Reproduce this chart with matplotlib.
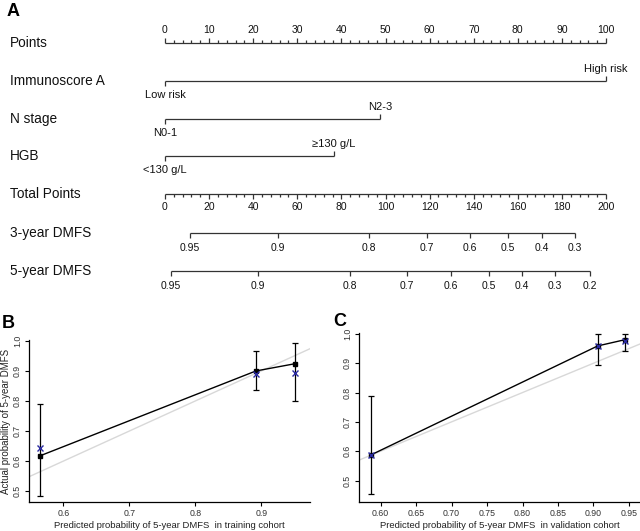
import matplotlib
matplotlib.use("Agg")
import matplotlib.pyplot as plt
import matplotlib.transforms as mtransforms
import numpy as np

plt.rcParams['font.family'] = ['Liberation Sans', 'DejaVu Sans']

# ---- nomogram data ----
row_names = ["Points", "Immunoscore A", "N stage", "HGB", "Total Points", "3-year DMFS", "5-year DMFS"]

points_major = [0, 10, 20, 30, 40, 50, 60, 70, 80, 90, 100]
points_minor = list(range(0, 101, 2))

immuno_pts = [0, 100]
immuno_labels = ["Low risk", "High risk"]
nstage_pts = [0, 48.8]
nstage_labels = ["N0-1", "N2-3"]
hgb_pts = [0, 38.3]
hgb_labels = ["<130 g/L", "\u2265130 g/L"]

total_major = [0, 20, 40, 60, 80, 100, 120, 140, 160, 180, 200]
total_minor = list(range(0, 201, 4))

dmfs3_labels = ["0.95", "0.9", "0.8", "0.7", "0.6", "0.5", "0.4", "0.3"]
dmfs3_total = [11.3, 51.2, 92.5, 118.8, 138.3, 155.6, 171.0, 186.0]
dmfs5_labels = ["0.95", "0.9", "0.8", "0.7", "0.6", "0.5", "0.4", "0.3", "0.2"]
dmfs5_total = [2.7, 42.2, 83.9, 109.8, 129.7, 146.9, 161.9, 176.9, 192.7]

# ---- calibration data ----
train_pred = [0.564, 0.892, 0.951]
train_obs = [0.617, 0.900, 0.924]
train_lo = [0.483, 0.836, 0.800]
train_hi = [0.790, 0.968, 0.993]
train_corr = [0.644, 0.890, 0.893]

valid_pred = [0.587, 0.906, 0.944]
valid_obs = [0.588, 0.959, 0.980]
valid_lo = [0.453, 0.895, 0.942]
valid_hi = [0.788, 1.000, 1.000]
valid_corr = [0.588, 0.957, 0.975]

W, H = 640, 531
fig = plt.figure(figsize=(W / 100, H / 100), dpi=100)

# vertical pixel position of each nomogram row
row_y = [43, 81, 119, 156, 193.5, 233, 271]


def box(left, top, right, bottom):
    return [left / W, 1 - bottom / H, (right - left) / W, (bottom - top) / H]


# nomogram axes: x in points (0-100), y in pixels from the top
ax = fig.add_axes(box(165, 0, 606, 300))
ax.set_xlim(0, 100)
ax.set_ylim(300, 0)
ax.axis("off")

LC = "#333333"
tick_big = 5
tick_small = 3


def draw_line(y, x0, x1):
    ax.plot([x0, x1], [y, y], color=LC, lw=0.9, clip_on=False, solid_capstyle="butt")


def draw_ticks(y, xs, length, up):
    sign = -1 if up else 1
    ax.vlines(xs, y, y + sign * length, color=LC, lw=0.9, clip_on=False)


def draw_label(x, y, text, off_px, size):
    ax.annotate(text, (x, y - off_px), ha="center", va="center", fontsize=size,
                color="#111111", annotation_clip=False)


# Points
y = row_y[0]
draw_line(y, 0, 100)
draw_ticks(y, points_major, tick_big, True)
draw_ticks(y, [p for p in points_minor if p not in points_major], tick_small, True)
for p in points_major:
    draw_label(p, y, str(p), 13, 7.5)

# categorical rows: first level below, second above
for y, pts, labs in [(row_y[1], immuno_pts, immuno_labels), (row_y[2], nstage_pts, nstage_labels),
                     (row_y[3], hgb_pts, hgb_labels)]:
    draw_line(y, pts[0], pts[1])
    draw_ticks(y, [pts[0]], tick_big, False)
    draw_ticks(y, [pts[1]], tick_big, True)
    draw_label(pts[0], y, labs[0], -14, 8)
    draw_label(pts[1], y, labs[1], 12, 8)

# Total points (scaled to the points axis)
y = row_y[4]
tot_x = [t / 2 for t in total_major]
draw_line(y, 0, 100)
draw_ticks(y, tot_x, tick_big, False)
draw_ticks(y, [t / 2 for t in total_minor if t not in total_major], tick_small, False)
for t, x in zip(total_major, tot_x):
    draw_label(x, y, str(t), -14, 7.5)

# DMFS rows
for y, labs, tot in [(row_y[5], dmfs3_labels, dmfs3_total), (row_y[6], dmfs5_labels, dmfs5_total)]:
    xs = [t / 2 for t in tot]
    draw_line(y, xs[0], xs[-1])
    draw_ticks(y, xs, tick_big, False)
    for lab, x in zip(labs, xs):
        draw_label(x, y, lab, -15, 7.5)

# row names
trans = mtransforms.blended_transform_factory(fig.transFigure, ax.transData)
for name, y in zip(row_names, row_y):
    ax.text(10 / W, y, name, transform=trans, ha="left", va="center", fontsize=9.8, color="#111111")

fig.text(7 / W, 1 - 11 / H, "A", fontsize=13, fontweight="bold", va="center", ha="left")
fig.text(2 / W, 1 - 323 / H, "B", fontsize=13, fontweight="bold", va="center", ha="left")
fig.text(333 / W, 1 - 321 / H, "C", fontsize=13, fontweight="bold", va="center", ha="left")


def calib(axc, pred, obs, lo, hi, corr, xlim, ylim, xticks, xfmt, xlabel, ylabel):
    axc.set_xlim(*xlim)
    axc.set_ylim(*ylim)
    axc.axline((0, 0), slope=1, color="#d8d8d8", lw=1.0, zorder=1)
    axc.plot(pred, obs, color="black", lw=1.0, zorder=2)
    axc.errorbar(pred, obs, yerr=[np.array(obs) - np.array(lo), np.array(hi) - np.array(obs)],
                 fmt="s", color="black", ms=2.5, elinewidth=0.9, capsize=2.5, capthick=0.9, zorder=3)
    axc.plot(pred, corr, "x", color="#2a2aa0", ms=4, mew=1.0, zorder=4)
    for s in ["top", "right"]:
        axc.spines[s].set_visible(False)
    for s in ["left", "bottom"]:
        axc.spines[s].set_linewidth(0.9)
    axc.set_xticks(xticks)
    axc.set_xticklabels([xfmt % v for v in xticks], fontsize=6.3, color="#333333")
    yt = [0.5, 0.6, 0.7, 0.8, 0.9, 1.0]
    axc.set_yticks(yt)
    axc.set_yticklabels(["%.1f" % v for v in yt], fontsize=6.3, rotation=90, va="center", color="#333333")
    axc.tick_params(length=3, width=0.8, pad=2)
    axc.set_xlabel(xlabel, fontsize=6.8, labelpad=2.5, color="#222222")
    if ylabel:
        axc.set_ylabel(ylabel, fontsize=7, labelpad=1.5, color="#222222")


axb = fig.add_axes(box(29, 340, 310, 502))
calib(axb, train_pred, train_obs, train_lo, train_hi, train_corr,
      (0.548, 0.974), (0.464, 1.003), [0.6, 0.7, 0.8, 0.9], "%.1f",
      "Predicted probability of 5-year DMFS  in training cohort",
      "Actual probability of 5-year DMFS")

axcc = fig.add_axes(box(359, 333, 640, 502))
calib(axcc, valid_pred, valid_obs, valid_lo, valid_hi, valid_corr,
      (0.5697, 0.9655), (0.427, 1.003), [0.60, 0.65, 0.70, 0.75, 0.80, 0.85, 0.90, 0.95], "%.2f",
      "Predicted probability of 5-year DMFS  in validation cohort", None)

fig.savefig("out.png", dpi=100)
